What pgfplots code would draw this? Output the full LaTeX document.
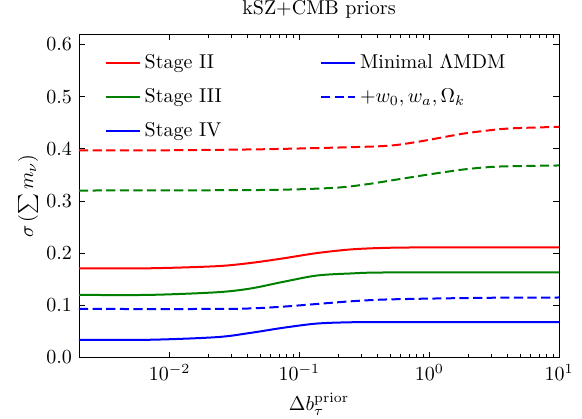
\documentclass[border=0pt]{standalone}
\usepackage{pgfplots}
\pgfplotsset{compat=1.18}
\definecolor{mred}{RGB}{255,0,0}
\definecolor{mgreen}{RGB}{0,128,0}
\definecolor{mblue}{RGB}{0,0,255}
\begin{document}
\begin{tikzpicture}
\begin{axis}[
  scale only axis,
  width=240pt, height=161.5pt,
  xmode=log, xmin=0.002, xmax=10,
  ymin=0, ymax=0.619,
  xtick={0.01,0.1,1,10},
  ytick={0,0.1,0.2,0.3,0.4,0.5,0.6},
  yticklabel style={/pgf/number format/fixed, /pgf/number format/fixed zerofill,
                    /pgf/number format/precision=1},
  tick align=inside,
  major tick length=3pt, minor tick length=1.6pt,
  every tick/.style={black, line width=0.4pt},
  title={kSZ+CMB priors},
  title style={at={(axis description cs:0.5,1.026)}, anchor=base, yshift=0pt, inner sep=0pt},
  xlabel={$\Delta b_\tau^{\mathrm{prior}}$},
  xlabel style={at={(axis description cs:0.5,-0.145)}, anchor=center, inner sep=0pt},
  ylabel={$\sigma\left(\sum m_\nu\right)$},
  ylabel style={at={(axis description cs:-0.106,0.5)}, anchor=center, inner sep=0pt},
  legend columns=2,
  legend cell align=left,
  legend style={draw=none, fill=none, at={(0.04,0.965)}, anchor=north west,
                row sep=4.5pt, /tikz/column 2/.style={column sep=47pt}},
  legend image post style={line width=1pt},
  every axis plot/.append style={line width=1pt},
]
\addplot[mred, smooth, forget plot] coordinates {
  (0.002,0.171)(0.007,0.171)(0.023,0.175)(0.0415,0.181)(0.075,0.190)
  (0.135,0.200)(0.245,0.207)(0.44,0.210)(1,0.211)(10,0.211)};
\addplot[mgreen, smooth, forget plot] coordinates {
  (0.002,0.120)(0.007,0.120)(0.023,0.125)(0.0415,0.132)(0.075,0.145)
  (0.135,0.157)(0.245,0.161)(0.5,0.163)(10,0.163)};
\addplot[mblue, smooth, forget plot] coordinates {
  (0.002,0.034)(0.007,0.034)(0.023,0.039)(0.0415,0.047)(0.075,0.057)
  (0.135,0.065)(0.245,0.0675)(0.5,0.068)(10,0.068)};
\addplot[mred, smooth, dash pattern=on 4.6pt off 2.2pt, forget plot] coordinates {
  (0.002,0.397)(0.0079,0.397)(0.05,0.399)(0.245,0.403)(0.497,0.406)
  (0.80,0.413)(1.21,0.421)(1.83,0.429)(2.61,0.434)(4.19,0.439)(10,0.442)};
\addplot[mgreen, smooth, dash pattern=on 4.6pt off 2.2pt, forget plot] coordinates {
  (0.002,0.320)(0.05,0.321)(0.18,0.325)(0.33,0.332)(0.594,0.342)
  (1.07,0.352)(1.94,0.361)(3.5,0.366)(10,0.368)};
\addplot[mblue, smooth, dash pattern=on 4.6pt off 2.2pt, forget plot] coordinates {
  (0.002,0.093)(0.02,0.093)(0.0415,0.094)(0.075,0.0975)(0.135,0.1025)
  (0.245,0.1076)(0.44,0.111)(1.07,0.113)(3,0.1145)(10,0.115)};
\addlegendimage{mred}
\addlegendentry{Stage II}
\addlegendimage{mblue}
\addlegendentry{Minimal $\Lambda$MDM}
\addlegendimage{mgreen}
\addlegendentry{Stage III}
\addlegendimage{mblue, dash pattern=on 4.6pt off 2.2pt}
\addlegendentry{$+w_0, w_a, \Omega_k$}
\addlegendimage{mblue}
\addlegendentry{Stage IV}
\end{axis}
\path ([xshift=-39.5pt, yshift=-30.5pt]current axis.south west)
  rectangle ([xshift=11.5pt, yshift=16pt]current axis.north east);
\end{tikzpicture}
\end{document}
